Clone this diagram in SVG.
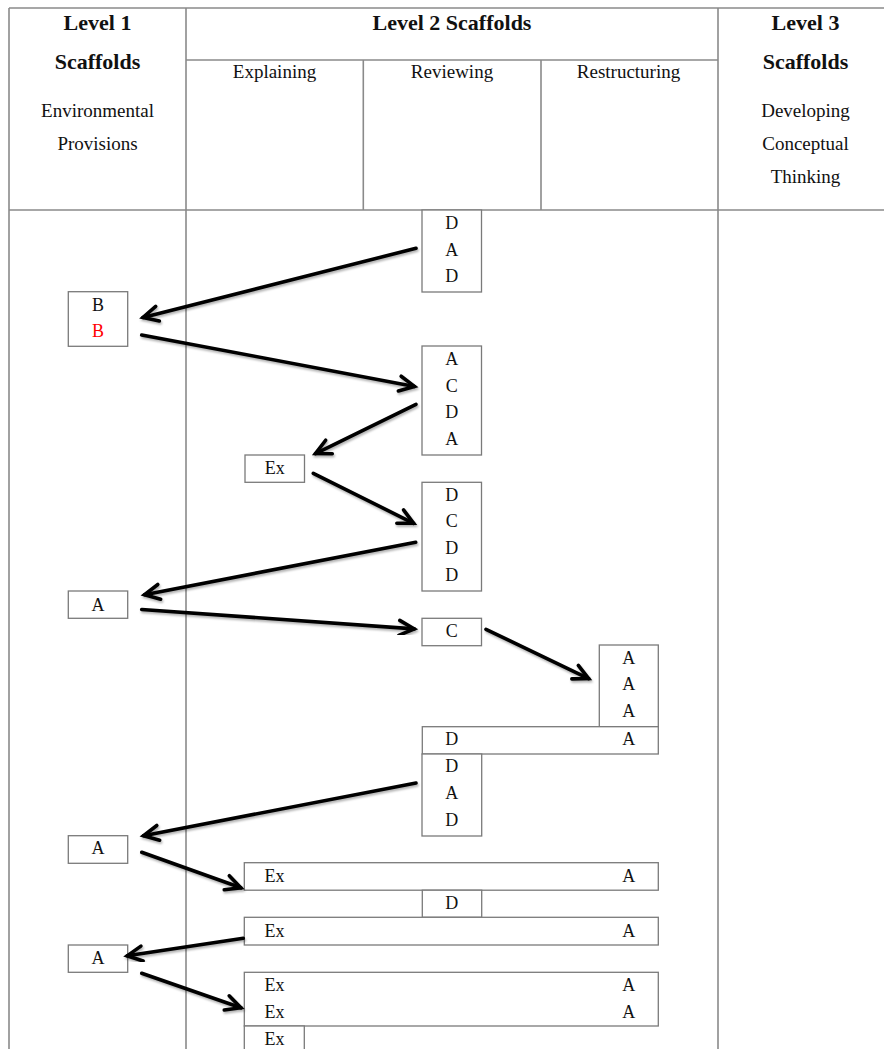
<svg xmlns="http://www.w3.org/2000/svg" width="884" height="1049" viewBox="0 0 884 1049">
<style>
  .grid { stroke: #8a8a8a; stroke-width: 1.6; fill: none; }
  .box { fill: #ffffff; stroke: #7a7a7a; stroke-width: 1.3; }
  .hb { font-family: "Liberation Serif", "Times New Roman", serif; font-weight: bold; font-size: 22px; fill: #111; text-anchor: middle; }
  .hr { font-family: "Liberation Serif", "Times New Roman", serif; font-size: 19px; fill: #111; text-anchor: middle; }
  .t { font-family: "Liberation Serif", "Times New Roman", serif; font-size: 18px; fill: #111; text-anchor: middle; }
  .red { fill: #ff0000; }
  .arrow { stroke: #000; stroke-width: 3.6; fill: none; stroke-linecap: round; marker-end: url(#head); filter: url(#sh); }
</style>
<defs>
  <marker id="head" viewBox="-20 -12 24 24" refX="0" refY="0" markerWidth="24" markerHeight="24" markerUnits="userSpaceOnUse" orient="auto" overflow="visible">
    <path d="M -15,-7.5 L 0,0 L -15,7.5" fill="none" stroke="#000" stroke-width="3.6" stroke-linecap="round" stroke-linejoin="miter"/>
  </marker>
  <filter id="sh" x="-10%" y="-30%" width="120%" height="160%">
    <feDropShadow dx="1" dy="2" stdDeviation="1.3" flood-color="#000" flood-opacity="0.3"/>
  </filter>
</defs>
<rect x="0" y="0" width="884" height="1049" fill="#ffffff"/>

<g id="table">
  <line class="grid" x1="9" y1="8" x2="884" y2="8"/>
  <line class="grid" x1="9" y1="210" x2="884" y2="210"/>
  <line class="grid" x1="186" y1="60" x2="718" y2="60"/>
  <line class="grid" x1="9" y1="8" x2="9" y2="1049"/>
  <line class="grid" x1="186" y1="8" x2="186" y2="1049"/>
  <line class="grid" x1="718" y1="8" x2="718" y2="1049"/>
  <line class="grid" x1="363.3" y1="60" x2="363.3" y2="210"/>
  <line class="grid" x1="541" y1="60" x2="541" y2="210"/>
</g>

<g id="header-level1">
  <text class="hb" x="97.5" y="30">Level 1</text>
  <text class="hb" x="97.5" y="69">Scaffolds</text>
  <text class="hr" x="97.5" y="116.5">Environmental</text>
  <text class="hr" x="97.5" y="149.5">Provisions</text>
</g>
<g id="header-level2">
  <text class="hb" x="452" y="30">Level 2 Scaffolds</text>
  <text class="hr" x="274.5" y="78">Explaining</text>
  <text class="hr" x="452" y="78">Reviewing</text>
  <text class="hr" x="628.5" y="78">Restructuring</text>
</g>
<g id="header-level3">
  <text class="hb" x="805.5" y="30">Level 3</text>
  <text class="hb" x="805.5" y="69">Scaffolds</text>
  <text class="hr" x="805.5" y="117">Developing</text>
  <text class="hr" x="805.5" y="150">Conceptual</text>
  <text class="hr" x="805.5" y="183">Thinking</text>
</g>

<g id="n1">
  <rect class="box" x="422" y="210" width="59.5" height="82"/>
  <text class="t" x="451.7" y="229">D</text>
  <text class="t" x="451.7" y="255.5">A</text>
  <text class="t" x="451.7" y="282">D</text>
</g>
<g id="n2">
  <rect class="box" x="68.3" y="291.7" width="59.4" height="54.6"/>
  <text class="t" x="98" y="310.5">B</text>
  <text class="t red" x="98" y="336.5">B</text>
</g>
<g id="n3">
  <rect class="box" x="422" y="346" width="59.5" height="109"/>
  <text class="t" x="451.7" y="365">A</text>
  <text class="t" x="451.7" y="391.5">C</text>
  <text class="t" x="451.7" y="418">D</text>
  <text class="t" x="451.7" y="445">A</text>
</g>
<g id="n4">
  <rect class="box" x="245" y="455" width="59.5" height="27.3"/>
  <text class="t" x="274.7" y="473.5">Ex</text>
</g>
<g id="n5">
  <rect class="box" x="422" y="482.3" width="59.5" height="108.7"/>
  <text class="t" x="451.7" y="500.7">D</text>
  <text class="t" x="451.7" y="527">C</text>
  <text class="t" x="451.7" y="554">D</text>
  <text class="t" x="451.7" y="580.5">D</text>
</g>
<g id="n6">
  <rect class="box" x="68.3" y="591" width="59.4" height="27.3"/>
  <text class="t" x="98" y="610.5">A</text>
</g>
<g id="n7">
  <rect class="box" x="422" y="618.3" width="59.5" height="27.4"/>
  <text class="t" x="451.7" y="637">C</text>
</g>
<g id="n8">
  <rect class="box" x="599.3" y="645" width="59" height="81.7"/>
  <text class="t" x="628.8" y="663.5">A</text>
  <text class="t" x="628.8" y="690">A</text>
  <text class="t" x="628.8" y="716.7">A</text>
</g>
<g id="n9">
  <rect class="box" x="422.3" y="726.7" width="236" height="27.3"/>
  <text class="t" x="451.7" y="745.3">D</text>
  <text class="t" x="628.8" y="745.3">A</text>
</g>
<g id="n10">
  <rect class="box" x="422" y="754" width="59.7" height="82"/>
  <text class="t" x="451.7" y="772.3">D</text>
  <text class="t" x="451.7" y="799">A</text>
  <text class="t" x="451.7" y="825.7">D</text>
</g>
<g id="n11">
  <rect class="box" x="68.3" y="835.7" width="59.4" height="27.6"/>
  <text class="t" x="98" y="854">A</text>
</g>
<g id="n12">
  <rect class="box" x="244.3" y="862.7" width="414" height="27.5"/>
  <text class="t" x="274.5" y="882.3">Ex</text>
  <text class="t" x="628.8" y="882.3">A</text>
</g>
<g id="n13">
  <rect class="box" x="422.3" y="890.2" width="59.4" height="27.1"/>
  <text class="t" x="451.7" y="909">D</text>
</g>
<g id="n14">
  <rect class="box" x="244.3" y="917.3" width="414" height="27.7"/>
  <text class="t" x="274.5" y="936.7">Ex</text>
  <text class="t" x="628.8" y="936.7">A</text>
</g>
<g id="n15">
  <rect class="box" x="68.3" y="945" width="59.4" height="27.3"/>
  <text class="t" x="98" y="964.3">A</text>
</g>
<g id="n16">
  <rect class="box" x="244.3" y="972.3" width="414" height="53.7"/>
  <text class="t" x="274.5" y="991">Ex</text>
  <text class="t" x="628.8" y="991">A</text>
  <text class="t" x="274.5" y="1017.7">Ex</text>
  <text class="t" x="628.8" y="1017.7">A</text>
</g>
<g id="n17">
  <rect class="box" x="244.3" y="1026" width="60" height="40"/>
  <text class="t" x="274.5" y="1045">Ex</text>
</g>

<g id="connectors">
  <line class="arrow" x1="416" y1="248.3" x2="143" y2="317.4"/>
  <line class="arrow" x1="141.7" y1="335" x2="414.5" y2="386.4"/>
  <line class="arrow" x1="416" y1="404.3" x2="315.5" y2="453.6"/>
  <line class="arrow" x1="313.3" y1="473.3" x2="413.6" y2="523.3"/>
  <line class="arrow" x1="415.7" y1="542.3" x2="144.5" y2="594.7"/>
  <line class="arrow" x1="141.7" y1="609.5" x2="414.2" y2="628.9"/>
  <line class="arrow" x1="486" y1="629.3" x2="588.6" y2="678.6"/>
  <line class="arrow" x1="416" y1="783" x2="143.5" y2="835.7"/>
  <line class="arrow" x1="141.7" y1="852.3" x2="240.9" y2="887.8"/>
  <line class="arrow" x1="243.3" y1="938.3" x2="127.2" y2="955.8"/>
  <line class="arrow" x1="141.7" y1="973.3" x2="240.9" y2="1007.8"/>
</g>
</svg>
